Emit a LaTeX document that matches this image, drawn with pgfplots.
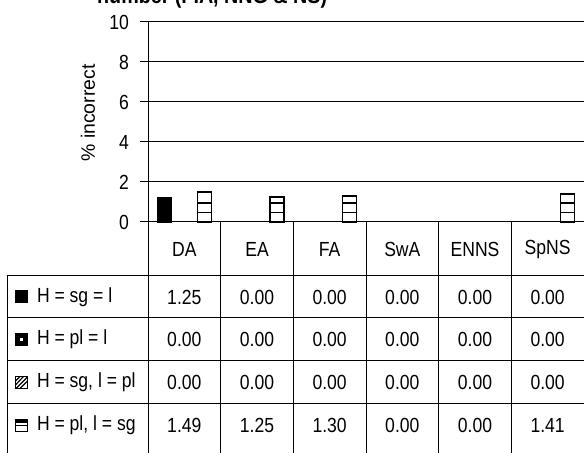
\documentclass[border=0pt]{standalone}
\usepackage{fontspec}
\setmainfont{Liberation Sans}[FakeStretch=0.86]
\newfontfamily\labfont{Liberation Sans}
\usepackage{pgfplots}
\pgfplotsset{compat=1.18}
\usepackage{pgfplotstable}
\usetikzlibrary{patterns}

\pgfdeclareverticalshading{hthirds}{100bp}{color(0bp)=(white); color(40.2bp)=(white); color(40.3bp)=(black); color(43.3bp)=(black); color(43.4bp)=(white); color(56.6bp)=(white); color(56.7bp)=(black); color(59.7bp)=(black); color(59.8bp)=(white); color(100bp)=(white)}

\pgfplotstableread{
cat s1 s2 s3 s4
0 1.25 0 0 1.49
1 0 0 0 1.25
2 0 0 0 1.30
3 0 0 0 0
4 0 0 0 0
5 0 0 0 1.41
}\datatable

\begin{document}
\begin{tikzpicture}[x=1bp,y=1bp]
\fontsize{20.5}{24}\selectfont
\path[use as bounding box] (0,0) rectangle (584,453);
\clip (0,0) rectangle (584,453);
\node[anchor=base west, font=\fontsize{23}{27}\selectfont\bfseries, inner sep=0] at (97,449.5) {number (FIA, NNG \& NS)};
\begin{axis}[
  at={(148bp,231bp)}, anchor=south west, scale only axis,
  width=436bp, height=200bp,
  xmin=-0.5, xmax=5.5, ymin=0, ymax=10,
  axis lines=left, axis line style={-, line width=1bp},
  xtick=\empty, ytick={0,2,4,6,8,10},
  tick align=outside, major tick length=8bp,
  tick style={black, line width=1bp},
  ymajorgrids, grid style={black, line width=1bp},
  /pgf/number format/assume math mode=true,
  ticklabel style={font=\fontsize{20.5}{24}\selectfont},
  yticklabel style={xshift=-4bp},
  ylabel={\labfont\fontsize{19.5}{22}\selectfont \% incorrect},
  ylabel style={at={(axis description cs:-0.138,0.545)}, anchor=center},
  ybar=-0.7bp, bar width=14bp,
  restrict y to domain=0.001:20,
  clip=false,
]
\addplot[fill=black, draw=black] table[x=cat,y=s1]{\datatable};
\addplot[fill=black, draw=black] table[x=cat,y=s2]{\datatable};
\addplot[draw=black, pattern=north west lines] table[x=cat,y=s3]{\datatable};
\addplot[draw=black, line width=1.5bp, shading=hthirds] table[x=cat,y=s4]{\datatable};
\end{axis}
% table grid
\foreach \yy in {177,135,92,49} { \draw[line width=1bp] (7,\yy) -- (584,\yy); }
\draw[line width=1bp] (7,177) -- (7,0);
\draw[line width=1bp] (148,231) -- (148,0);
\foreach \k in {1,...,5} { \draw[line width=1bp] (148+72.667*\k,231) -- (148+72.667*\k,0); }
% header
\foreach \n [count=\i from 0] in {DA,EA,FA,SwA,ENNS,SpNS} {
  \node at (148+72.667*\i+36.33,204) {\n};
}
% values
\foreach \ri in {0,...,5} {
  \foreach \s/\yy in {s1/156,s2/113.5,s3/70.5,s4/27.5} {
    \pgfplotstablegetelem{\ri}{\s}\of\datatable
    \node at (148+72.667*\ri+36.33,\yy) {\pgfmathprintnumber[fixed,fixed zerofill,precision=2,assume math mode=true]{\pgfplotsretval}};
  }
}
% legend
\fill (15,149.5) rectangle (28,162.5);
\node[anchor=west] at (30,156) {H = sg = l};
\fill (15,107) rectangle (28,120);
\fill[white] (20,112) rectangle (23,115);
\node[anchor=west] at (30,113.5) {H = pl = l};
\draw[line width=1.2bp] (15.5,64.5) rectangle (27.5,76.5);
\draw[line width=1.2bp] (15.5,72) -- (20,76.5) (15.5,68) -- (23.5,76.5);
\draw[line width=1.2bp] (16,64.5) -- (27.5,76) (20,64.5) -- (27.5,72);
\node[anchor=west] at (30,70.5) {H = sg, l = pl};
\draw[line width=1.2bp] (15.5,21.5) rectangle (27.5,33.5);
\draw[line width=2.2bp] (15.5,31.5) -- (27.5,31.5);
\draw[line width=1.2bp] (15.5,27.5) -- (27.5,27.5);
\node[anchor=west] at (30,27.5) {H = pl, l = sg};
\end{tikzpicture}
\end{document}
